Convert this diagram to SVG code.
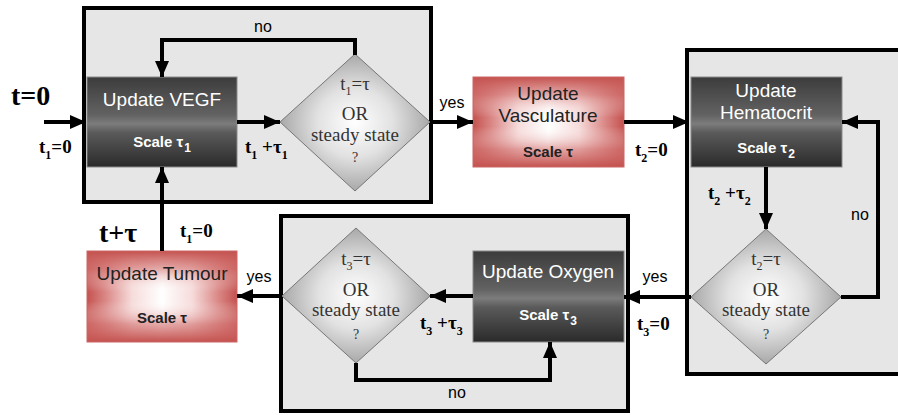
<svg xmlns="http://www.w3.org/2000/svg" width="898" height="415" viewBox="0 0 898 415">
<style>
.box{fill:#e6e6e6;stroke:#000;stroke-width:4}
.dark{fill:url(#gDark);stroke:#8a8a8a;stroke-width:1}
.red{fill:url(#gRedH)}
.redv{fill:url(#gRedV);stroke:#c66;stroke-width:1}
.dia{fill:url(#gDia);stroke:#777;stroke-width:1}
.wt{font-family:"Liberation Sans",Arial,sans-serif;font-size:19px;fill:#fff;text-anchor:middle}
.ws{font-family:"Liberation Sans",Arial,sans-serif;font-size:15px;font-weight:bold;fill:#fff;text-anchor:middle}
.rt{font-family:"Liberation Sans",Arial,sans-serif;font-size:19px;fill:#222;text-anchor:middle}
.rs{font-family:"Liberation Sans",Arial,sans-serif;font-size:15px;font-weight:bold;fill:#222;text-anchor:middle}
.dt{font-family:"Liberation Serif","Times New Roman",serif;font-size:19px;fill:#333;text-anchor:middle}
.q{font-family:"Liberation Serif","Times New Roman",serif;font-size:14px;fill:#333;text-anchor:middle}
.lab{font-family:"Liberation Serif","Times New Roman",serif;font-size:19px;font-weight:bold;fill:#000}
.big{font-family:"Liberation Serif","Times New Roman",serif;font-size:28px;font-weight:bold;fill:#000}
.yn{font-family:"Liberation Sans",Arial,sans-serif;font-size:16px;fill:#000}
.sub{font-size:12px}
.con{fill:none;stroke:#000;stroke-width:4;marker-end:url(#arr)}
</style>
<defs>
<linearGradient id="gDark" x1="0" y1="0" x2="0" y2="1">
<stop offset="0" stop-color="#3c3c3c"/>
<stop offset="0.42" stop-color="#626262"/>
<stop offset="0.52" stop-color="#7c7c7c"/>
<stop offset="0.62" stop-color="#5a5a5a"/>
<stop offset="1" stop-color="#2a2a2a"/>
</linearGradient>
<linearGradient id="gRedH" x1="0" y1="0" x2="1" y2="0">
<stop offset="0" stop-color="#c4524f"/>
<stop offset="0.12" stop-color="#d98684"/>
<stop offset="0.3" stop-color="#f6dcdb"/>
<stop offset="0.5" stop-color="#ffffff"/>
<stop offset="0.7" stop-color="#f6dcdb"/>
<stop offset="0.88" stop-color="#d98684"/>
<stop offset="1" stop-color="#c4524f"/>
</linearGradient>
<linearGradient id="gRedV" x1="0" y1="0" x2="0" y2="1">
<stop offset="0" stop-color="#c4524f" stop-opacity="1"/>
<stop offset="0.2" stop-color="#d27472" stop-opacity="0.6"/>
<stop offset="0.45" stop-color="#ffffff" stop-opacity="0"/>
<stop offset="0.55" stop-color="#ffffff" stop-opacity="0"/>
<stop offset="0.8" stop-color="#d27472" stop-opacity="0.6"/>
<stop offset="1" stop-color="#c4524f" stop-opacity="1"/>
</linearGradient>
<radialGradient id="gDia" cx="0.5" cy="0.5" r="0.5">
<stop offset="0" stop-color="#ffffff"/>
<stop offset="0.5" stop-color="#e2e2e2"/>
<stop offset="1" stop-color="#a8a8a8"/>
</radialGradient>
<marker id="arr" markerUnits="userSpaceOnUse" markerWidth="16" markerHeight="14" refX="16" refY="7" orient="auto">
<path d="M0,0 L16,7 L0,14 Z" fill="#000"/>
</marker>
</defs>

<g id="container-vegf"><rect class="box" x="84" y="8" width="347" height="194"/></g>
<g id="container-hematocrit"><rect class="box" x="687" y="50" width="240" height="324"/></g>
<g id="container-oxygen"><rect class="box" x="281" y="216" width="347" height="195"/></g>

<g id="node-vegf">
<rect class="dark" x="87" y="77" width="150" height="90"/>
<text class="wt" x="162" y="106">Update VEGF</text>
<text class="ws" x="162" y="147">Scale τ<tspan class="sub" dx="1" dy="5">1</tspan></text>
</g>
<g id="node-decision1">
<polygon class="dia" points="355,54 430,122 355,191 280,122"/>
<text class="dt" x="355" y="90">t<tspan class="sub" dy="5">1</tspan><tspan dy="-5">=τ</tspan></text>
<text class="dt" x="355" y="120">OR</text>
<text class="dt" x="355" y="141">steady state</text>
<text class="q" x="355" y="162">?</text>
</g>
<g id="node-vasculature">
<rect class="red" x="473" y="77" width="151" height="90"/>
<rect class="redv" x="473" y="77" width="151" height="90"/>
<text class="rt" x="548" y="100">Update</text>
<text class="rt" x="548" y="122">Vasculature</text>
<text class="rs" x="548" y="157">Scale τ</text>
</g>
<g id="node-hematocrit">
<rect class="dark" x="691" y="77" width="151" height="90"/>
<text class="wt" x="766" y="97">Update</text>
<text class="wt" x="766" y="119">Hematocrit</text>
<text class="ws" x="766" y="153">Scale τ<tspan class="sub" dx="1" dy="5">2</tspan></text>
</g>
<g id="node-decision2">
<polygon class="dia" points="766,229 841,297 766,364 691,297"/>
<text class="dt" x="766" y="265">t<tspan class="sub" dy="5">2</tspan><tspan dy="-5">=τ</tspan></text>
<text class="dt" x="766" y="296">OR</text>
<text class="dt" x="766" y="316">steady state</text>
<text class="q" x="766" y="339">?</text>
</g>
<g id="node-oxygen">
<rect class="dark" x="473" y="251" width="151" height="91"/>
<text class="wt" x="548" y="278">Update Oxygen</text>
<text class="ws" x="548" y="320">Scale τ<tspan class="sub" dx="1" dy="5">3</tspan></text>
</g>
<g id="node-decision3">
<polygon class="dia" points="356,228 430,296 356,363 282,296"/>
<text class="dt" x="356" y="265">t<tspan class="sub" dy="5">3</tspan><tspan dy="-5">=τ</tspan></text>
<text class="dt" x="356" y="296">OR</text>
<text class="dt" x="356" y="316">steady state</text>
<text class="q" x="356" y="339">?</text>
</g>
<g id="node-tumour">
<rect class="red" x="87" y="251" width="150" height="91"/>
<rect class="redv" x="87" y="251" width="150" height="91"/>
<text class="rt" x="162" y="280">Update Tumour</text>
<text class="rs" x="162" y="323">Scale τ</text>
</g>

<g id="connectors">
<line class="con" x1="44" y1="122" x2="86" y2="122"/>
<line class="con" x1="237" y1="122" x2="280" y2="122"/>
<path class="con" d="M355,55 V40 H162 V77"/>
<line class="con" x1="430" y1="122" x2="473" y2="122"/>
<line class="con" x1="624" y1="122" x2="689" y2="122"/>
<line class="con" x1="766" y1="167" x2="766" y2="229"/>
<path class="con" d="M841,297 H878 V122 H842"/>
<line class="con" x1="691" y1="297" x2="624" y2="297"/>
<line class="con" x1="473" y1="296" x2="430" y2="296"/>
<path class="con" d="M356,363 V380 H550 V342"/>
<line class="con" x1="282" y1="296" x2="237" y2="296"/>
<line class="con" x1="162" y1="251" x2="162" y2="167"/>
</g>

<g id="labels">
<text class="big" x="11" y="105" font-size="25">t=0</text>
<text class="lab" x="39" y="153">t<tspan class="sub" dy="6">1</tspan><tspan dy="-6">=0</tspan></text>
<text class="lab" x="245" y="153">t<tspan class="sub" dy="6">1</tspan><tspan dy="-6"> +τ</tspan><tspan class="sub" dy="6">1</tspan></text>
<text class="yn" x="263" y="32" text-anchor="middle">no</text>
<text class="yn" x="452" y="108" text-anchor="middle">yes</text>
<text class="lab" x="635" y="156">t<tspan class="sub" dy="6">2</tspan><tspan dy="-6">=0</tspan></text>
<text class="lab" x="708" y="199">t<tspan class="sub" dy="6">2</tspan><tspan dy="-6"> +τ</tspan><tspan class="sub" dy="6">2</tspan></text>
<text class="yn" x="860" y="220" text-anchor="middle">no</text>
<text class="yn" x="655" y="282" text-anchor="middle">yes</text>
<text class="lab" x="637" y="330">t<tspan class="sub" dy="6">3</tspan><tspan dy="-6">=0</tspan></text>
<text class="lab" x="420" y="329">t<tspan class="sub" dy="6">3</tspan><tspan dy="-6"> +τ</tspan><tspan class="sub" dy="6">3</tspan></text>
<text class="yn" x="457" y="398" text-anchor="middle">no</text>
<text class="yn" x="259" y="282" text-anchor="middle">yes</text>
<text class="big" x="99" y="242">t+τ</text>
<text class="lab" x="180" y="237" font-size="17">t<tspan class="sub" dy="6">1</tspan><tspan dy="-6">=0</tspan></text>
</g>
</svg>
